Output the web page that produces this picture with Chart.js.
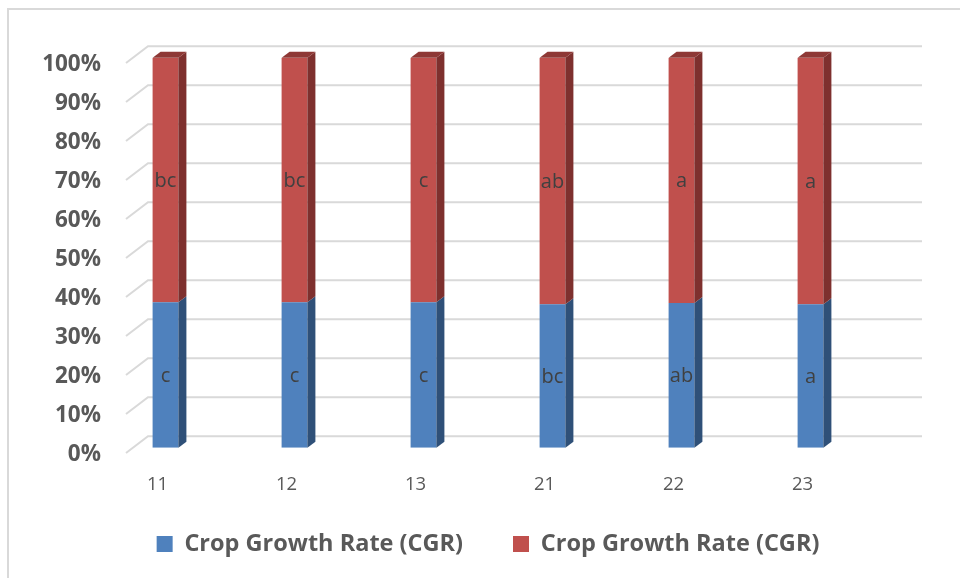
<!DOCTYPE html>
<html>
<head>
<meta charset="utf-8">
<title>Crop Growth Rate (CGR)</title>
<script src="https://cdn.jsdelivr.net/npm/chart.js@4.4.1/dist/chart.umd.min.js"></script>
<style>
  html, body { margin: 0; padding: 0; background: #ffffff; }
  #wrap { position: relative; width: 960px; height: 578px; overflow: hidden; }
  #frame { position: absolute; left: 7px; top: 8px; right: -10px; bottom: -10px;
           border-top: 2px solid #d9d9d9; border-left: 2px solid #d9d9d9; }
  #chart { position: absolute; left: 0; top: 0; }
</style>
</head>
<body>
<div id="wrap">
  <div id="frame"></div>
  <canvas id="chart" width="960" height="578"></canvas>
</div>
<script>
// Treatments on the category axis
const categories = ['11', '12', '13', '21', '22', '23'];

// Share of each part in the 100% stacked columns (percent)
const cgrLowerShare = [37.3, 37.3, 37.3, 36.8, 37.1, 36.8];
const cgrUpperShare = [62.7, 62.7, 62.7, 63.2, 62.9, 63.2];

// Significance letters printed inside each segment
const lowerLetters = ['c', 'c', 'c', 'bc', 'ab', 'a'];
const upperLetters = ['bc', 'bc', 'c', 'ab', 'a', 'a'];

// Legend names
const seriesNames = ['Crop Growth Rate (CGR)', 'Crop Growth Rate (CGR)'];

const FRONT = ['#4f81bd', '#c0504d'];
const SIDE = ['#2f5078', '#7e302e'];
const TOP = ['#3b6390', '#8e3835'];
const DEPTH = { dx: 8, dy: -6 };

// Back wall with its floor-to-wall diagonals, drawn behind the columns
const wallPlugin = {
  id: 'wall',
  beforeDatasetsDraw(chart) {
    const { ctx, chartArea: a, scales: { y } } = chart;
    ctx.save();
    ctx.strokeStyle = '#d9d9d9';
    ctx.lineWidth = 2;
    for (let v = 0; v <= 100; v += 10) {
      const p = y.getPixelForValue(v);
      ctx.beginPath();
      ctx.moveTo(a.left + 25, p + 5.3);
      ctx.lineTo(a.left + 47, p - 11.5);
      ctx.lineTo(a.right + 47, p - 11.5);
      ctx.stroke();
    }
    ctx.restore();
  }
};

// Side and top faces of each column, then the letters on the front faces
const columnPlugin = {
  id: 'columns3d',
  afterDatasetsDraw(chart) {
    const ctx = chart.ctx;
    const last = chart.data.datasets.length - 1;
    ctx.save();
    chart.data.datasets.forEach((ds, di) => {
      const meta = chart.getDatasetMeta(di);
      meta.data.forEach((bar) => {
        const { x, y, base, width } = bar.getProps(['x', 'y', 'base', 'width'], true);
        const left = x - width / 2, right = x + width / 2;
        const top = Math.min(y, base), bottom = Math.max(y, base);
        ctx.fillStyle = SIDE[di];
        ctx.beginPath();
        ctx.moveTo(right, bottom);
        ctx.lineTo(right + DEPTH.dx, bottom + DEPTH.dy);
        ctx.lineTo(right + DEPTH.dx, top + DEPTH.dy);
        ctx.lineTo(right, top);
        ctx.closePath();
        ctx.fill();
        if (di === last) {
          ctx.fillStyle = TOP[di];
          ctx.beginPath();
          ctx.moveTo(left, top);
          ctx.lineTo(right, top);
          ctx.lineTo(right + DEPTH.dx, top + DEPTH.dy);
          ctx.lineTo(left + DEPTH.dx, top + DEPTH.dy);
          ctx.closePath();
          ctx.fill();
        }
      });
    });
    ctx.font = '20px "Open Sans"';
    ctx.fillStyle = '#404040';
    ctx.textAlign = 'center';
    ctx.textBaseline = 'middle';
    const letters = [lowerLetters, upperLetters];
    chart.data.datasets.forEach((ds, di) => {
      chart.getDatasetMeta(di).data.forEach((bar, i) => {
        const { x, y, base } = bar.getProps(['x', 'y', 'base'], true);
        ctx.fillText(letters[di][i], x, (y + base) / 2 + 1);
      });
    });
    ctx.restore();
  }
};

new Chart(document.getElementById('chart'), {
  type: 'bar',
  data: {
    labels: categories,
    datasets: [
      { label: seriesNames[0], data: cgrLowerShare, backgroundColor: FRONT[0] },
      { label: seriesNames[1], data: cgrUpperShare, backgroundColor: FRONT[1] }
    ]
  },
  options: {
    responsive: false,
    devicePixelRatio: 1,
    animation: false,
    layout: { padding: { top: 57.7, right: 85, bottom: 12.25, left: 0 } },
    datasets: { bar: { barPercentage: 0.2, categoryPercentage: 1 } },
    scales: {
      x: {
        stacked: true,
        grid: { display: false, drawTicks: false },
        border: { display: false },
        ticks: {
          // mirrored ticks are not clipped to the (short) axis box
          mirror: true,
          padding: -48.5,
          labelOffset: -8,
          color: '#595959',
          font: { family: '"Open Sans"', size: 18.5 }
        },
        afterFit(scale) { scale.height = 34.55; }
      },
      y: {
        stacked: true,
        min: 0,
        max: 100,
        grid: { display: false, drawTicks: false },
        border: { display: false },
        ticks: {
          stepSize: 10,
          padding: 0,
          labelOffset: 7,
          color: '#595959',
          font: { family: '"Open Sans"', size: 22.5, weight: 'bold' },
          callback: (v) => v + '%'
        },
        afterFit(scale) { scale.width = 101; }
      }
    },
    plugins: {
      legend: {
        position: 'bottom',
        fullSize: false,
        labels: {
          boxWidth: 16,
          boxHeight: 16,
          padding: 50,
          color: '#595959',
          font: { family: '"Open Sans"', size: 23.5, weight: 'bold' }
        }
      },
      tooltip: { enabled: false }
    }
  },
  plugins: [wallPlugin, columnPlugin]
});
</script>
</body>
</html>
